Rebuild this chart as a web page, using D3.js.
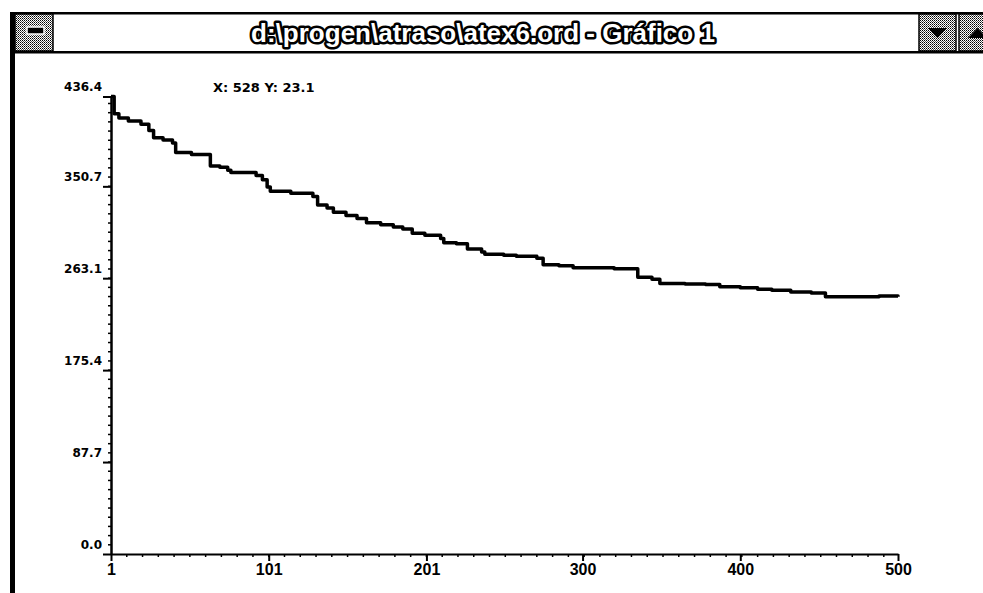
<!DOCTYPE html>
<html><head><meta charset="utf-8">
<script src="https://cdn.jsdelivr.net/npm/d3@7"></script>
<style>body{margin:0;background:#fff}svg{display:block}</style>
</head><body>
<svg id="c" width="983" height="593"></svg>
<script>
const titleText = "d:\\progen\\atraso\\atex6.ord - Gráfico 1";
const cursorText = "X: 528 Y: 23.1";
const stepX = [1,3,6,12,20,25,28,34,40,42,52,64,70,75,77,93,97,100,102,115,129,132,138,142,150,157,163,172,180,186,192,200,210,212,220,227,236,238,250,258,271,275,285,294,320,335,344,349,365,378,387,400,411,420,432,445,454,470,488,500];
const stepY = [436.4,420,416,413,410,404,397,395,392,383,381,370,369,366,364,361,357,350,346,344,341,333,330,326,323,320,316,314,312,310,306,304,301,297,296,291,288,286,285,284,282,276,275,273,272,264,262,258,257.5,257,255,254,252.5,251.5,250,249,245.5,245.5,246,245.5];
const xTickValues = [1,101,201,300,400,500];
const xTickLabels = ["1","101","201","300","400","500"];
const yTickValues = [0,87.7,175.4,263.1,350.7,436.4];
const yTickLabels = ["0.0","87.7","175.4","263.1","350.7","436.4"];

const svg = d3.select("#c");
const defs = svg.append("defs");
const pat = defs.append("pattern").attr("id","dither").attr("width",2).attr("height",2).attr("patternUnits","userSpaceOnUse");
pat.append("rect").attr("width",2).attr("height",2).attr("fill","#fff");
pat.append("rect").attr("width",1).attr("height",1).attr("fill","#000");
pat.append("rect").attr("x",1).attr("y",1).attr("width",1).attr("height",1).attr("fill","#555");

// window frame
svg.append("rect").attr("x",10).attr("y",12).attr("width",980).attr("height",2.5).attr("fill","#000");
svg.append("rect").attr("x",10).attr("y",51).attr("width",980).attr("height",2.5).attr("fill","#000");
svg.append("rect").attr("x",10).attr("y",12).attr("width",5).attr("height",593).attr("fill","#000");
// system box
svg.append("rect").attr("x",15).attr("y",14).attr("width",38).attr("height",37).attr("fill","url(#dither)").attr("stroke","#000").attr("stroke-width",1.5);
svg.append("rect").attr("x",27).attr("y",27).attr("width",17).attr("height",7).attr("fill","#000").attr("stroke","#fff").attr("stroke-width",1.5);
// right boxes
svg.append("rect").attr("x",919).attr("y",14).attr("width",37).attr("height",37).attr("fill","url(#dither)").attr("stroke","#000").attr("stroke-width",1.5);
svg.append("path").attr("d","M928,28 L947,28 L937.5,38 Z").attr("fill","#000");
svg.append("rect").attr("x",959).attr("y",14).attr("width",30).attr("height",37).attr("fill","url(#dither)").attr("stroke","#000").attr("stroke-width",1.5);
svg.append("path").attr("d","M968,38 L987,38 L977.5,28 Z").attr("fill","#000");

svg.append("text").attr("x",483).attr("y",42).attr("text-anchor","middle")
  .attr("font-family","Liberation Sans, Arial, sans-serif").attr("font-weight","bold").attr("font-size",26)
  .attr("fill","#fff").attr("stroke","#000").attr("stroke-width",5).attr("paint-order","stroke")
  .attr("stroke-linejoin","round").text(titleText);

// scales
const x = d3.scaleLinear().domain([1,500]).range([111,898]);
const y = d3.scaleLinear().domain([0,436.4]).range([554,96.5]);

// minor ticks
const g = svg.append("g");
g.selectAll(".mx").data(d3.range(11,500,10)).join("line")
  .attr("x1",d=>x(d)).attr("x2",d=>x(d)).attr("y1",554).attr("y2",557)
  .attr("stroke","#000").attr("stroke-width",1.5);
g.selectAll(".my").data(d3.range(1,50).map(i=>i*8.77)).join("line")
  .attr("x1",108).attr("x2",111).attr("y1",d=>y(d)).attr("y2",d=>y(d))
  .attr("stroke","#000").attr("stroke-width",1.5);

// axes
const xAxis = d3.axisBottom(x).tickValues(xTickValues).tickFormat((d,i)=>xTickLabels[i]).tickSize(7).tickPadding(3).tickSizeOuter(0);
const gx = svg.append("g").attr("transform","translate(0,554)").call(xAxis);
gx.select(".domain").attr("stroke","#000").attr("stroke-width",2.2);
gx.selectAll(".tick line").attr("stroke","#000").attr("stroke-width",2);
gx.selectAll(".tick text").attr("font-family","Liberation Sans, Arial, sans-serif").attr("font-weight","bold").attr("font-size",16).attr("fill","#000");

const yAxis = d3.axisLeft(y).tickValues(yTickValues).tickFormat((d,i)=>yTickLabels[i]).tickSize(8).tickPadding(0).tickSizeOuter(0);
const gy = svg.append("g").attr("transform","translate(111,0)").call(yAxis);
gy.select(".domain").attr("stroke","#000").attr("stroke-width",2.5);
gy.selectAll(".tick line").attr("stroke","#000").attr("stroke-width",2);
gy.selectAll(".tick text").attr("font-family","DejaVu Sans, sans-serif").attr("font-weight","bold").attr("font-size",12)
  .attr("fill","#000").attr("x",-9).attr("dy",null).attr("y",-6);

// series
const pts = stepX.map((d,i)=>[d,stepY[i]]);
const line = d3.line().x(d=>x(d[0])).y(d=>y(d[1])).curve(d3.curveStepAfter);
svg.append("path").datum(pts).attr("d",line).attr("fill","none").attr("stroke","#000").attr("stroke-width",3.5).attr("stroke-linejoin","round");

svg.append("text").attr("x",213).attr("y",92).attr("font-family","DejaVu Sans, sans-serif").attr("font-weight","bold").attr("font-size",13).attr("fill","#000").text(cursorText);
</script>
</body></html>
